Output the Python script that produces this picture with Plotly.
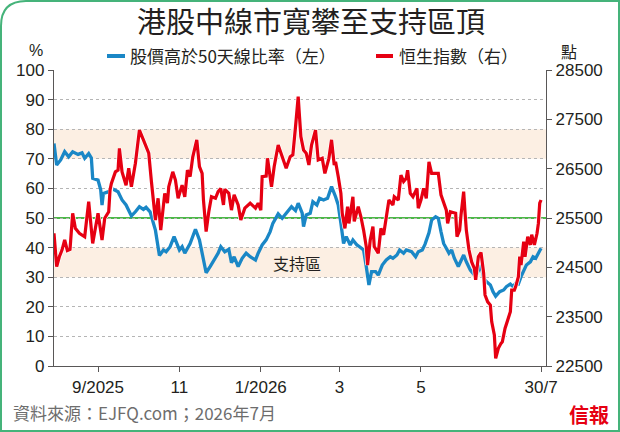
import plotly.graph_objects as go

# 股價高於50天線比率 (%), left axis
breadth_dates = [
    "2025-07-30", "2025-08-01", "2025-08-04", "2025-08-07", "2025-08-10", "2025-08-13", "2025-08-17",
    "2025-08-20", "2025-08-22", "2025-08-25", "2025-08-27", "2025-08-28", "2025-09-01", "2025-09-03",
    "2025-09-04", "2025-09-05", "2025-09-09", "2025-09-12", "2025-09-16", "2025-09-19", "2025-09-22",
    "2025-09-26", "2025-09-29", "2025-10-02", "2025-10-05", "2025-10-07", "2025-10-10", "2025-10-14",
    "2025-10-17", "2025-10-20", "2025-10-22", "2025-10-25", "2025-10-28", "2025-11-01", "2025-11-03",
    "2025-11-05", "2025-11-09", "2025-11-11", "2025-11-13", "2025-11-16", "2025-11-18", "2025-11-21",
    "2025-11-24", "2025-11-27", "2025-11-30", "2025-12-02", "2025-12-05", "2025-12-08", "2025-12-10",
    "2025-12-12", "2025-12-15", "2025-12-18", "2025-12-21", "2025-12-24", "2025-12-28", "2025-12-30",
    "2026-01-02", "2026-01-05", "2026-01-08", "2026-01-10", "2026-01-14", "2026-01-17", "2026-01-20",
    "2026-01-24", "2026-01-27", "2026-01-29", "2026-02-01", "2026-02-02", "2026-02-04", "2026-02-07",
    "2026-02-09", "2026-02-12", "2026-02-14", "2026-02-17", "2026-02-20", "2026-02-21", "2026-02-23",
    "2026-02-26", "2026-02-28", "2026-03-02", "2026-03-04", "2026-03-06", "2026-03-09", "2026-03-11",
    "2026-03-14", "2026-03-16", "2026-03-19", "2026-03-21", "2026-03-23", "2026-03-25", "2026-03-28",
    "2026-03-30", "2026-04-02", "2026-04-05", "2026-04-08", "2026-04-10", "2026-04-13", "2026-04-15",
    "2026-04-18", "2026-04-20", "2026-04-24", "2026-04-27", "2026-04-29", "2026-05-02", "2026-05-04",
    "2026-05-07", "2026-05-09", "2026-05-12", "2026-05-14", "2026-05-16", "2026-05-18", "2026-05-20",
    "2026-05-22", "2026-05-24", "2026-05-26", "2026-05-29", "2026-05-31", "2026-06-02", "2026-06-04",
    "2026-06-07", "2026-06-09", "2026-06-10", "2026-06-12", "2026-06-14", "2026-06-15", "2026-06-17",
    "2026-06-19", "2026-06-22", "2026-06-24", "2026-06-26", "2026-06-29", "2026-07-02", "2026-07-04",
    "2026-07-07", "2026-07-09", "2026-07-11", "2026-07-13", "2026-07-15", "2026-07-17", "2026-07-19",
    "2026-07-22", "2026-07-24", "2026-07-26", "2026-07-28", "2026-07-30",
]
breadth_pct = [
    75.2, 67.9, 69.6, 72.4, 70.7, 72.4, 71.5,
    72.0, 70.2, 71.8, 70.3, 63.4, 62.8, 59.5,
    54.4, 58.3, 58.9, 59.8, 58.9, 56.1, 54.4,
    50.7, 52.1, 53.8, 52.9, 53.6, 52.1, 45.9,
    37.3, 39.2, 38.6, 40.3, 43.7, 39.2, 40.3,
    38.1, 41.4, 43.7, 46.2, 42.6, 38.1, 31.5,
    33.6, 35.8, 38.1, 40.3, 38.6, 39.4, 34.9,
    36.9, 33.6, 36.4, 38.1, 36.9, 35.8, 38.1,
    40.9, 42.6, 45.4, 48.2, 51.4, 49.9, 51.6,
    53.8, 52.5, 55.0, 51.6, 47.1, 51.0, 51.6,
    55.5, 54.4, 56.7, 56.1, 56.7, 58.3, 60.6,
    57.2, 54.4, 48.2, 41.4, 43.7, 40.9, 42.6,
    40.9, 40.3, 39.2, 33.6, 27.4, 31.9, 31.9,
    30.7, 34.1, 35.8, 36.9, 36.4, 37.5, 39.2,
    38.1, 39.2, 38.6, 36.9, 38.6, 39.2, 41.1,
    45.0, 49.3, 50.4, 49.9, 45.4, 41.4, 39.8,
    38.1, 39.2, 36.4, 33.6, 35.8, 37.5, 35.2,
    32.4, 31.3, 32.4, 31.3, 33.0, 34.1, 29.6,
    28.5, 27.4, 25.1, 23.6, 25.1, 25.7, 26.8,
    27.7, 26.8, 27.9, 27.7, 30.2, 32.4, 34.1,
    35.2, 36.9, 36.4, 38.1, 39.8,
]

# 恒生指數, right axis
hsi_dates = [
    "2025-07-30", "2025-08-01", "2025-08-03", "2025-08-05", "2025-08-07", "2025-08-09", "2025-08-11",
    "2025-08-13", "2025-08-15", "2025-08-18", "2025-08-22", "2025-08-25", "2025-08-28", "2025-09-01",
    "2025-09-04", "2025-09-06", "2025-09-09", "2025-09-10", "2025-09-11", "2025-09-14", "2025-09-16",
    "2025-09-17", "2025-09-19", "2025-09-22", "2025-09-24", "2025-09-26", "2025-09-29", "2025-10-02",
    "2025-10-05", "2025-10-09", "2025-10-11", "2025-10-14", "2025-10-16", "2025-10-18", "2025-10-21",
    "2025-10-23", "2025-10-24", "2025-10-27", "2025-10-29", "2025-10-31", "2025-11-03", "2025-11-05",
    "2025-11-07", "2025-11-09", "2025-11-11", "2025-11-14", "2025-11-16", "2025-11-18", "2025-11-19",
    "2025-11-21", "2025-11-23", "2025-11-25", "2025-11-28", "2025-11-30", "2025-12-02", "2025-12-04",
    "2025-12-05", "2025-12-08", "2025-12-10", "2025-12-12", "2025-12-15", "2025-12-17", "2025-12-20",
    "2025-12-24", "2025-12-28", "2025-12-30", "2026-01-01", "2026-01-02", "2026-01-05", "2026-01-06",
    "2026-01-09", "2026-01-11", "2026-01-14", "2026-01-17", "2026-01-20", "2026-01-23", "2026-01-25",
    "2026-01-27", "2026-01-29", "2026-01-30", "2026-01-31", "2026-02-02", "2026-02-04", "2026-02-06",
    "2026-02-08", "2026-02-11", "2026-02-13", "2026-02-16", "2026-02-18", "2026-02-21", "2026-02-23",
    "2026-02-25", "2026-02-26", "2026-02-28", "2026-03-02", "2026-03-03", "2026-03-05", "2026-03-07",
    "2026-03-08", "2026-03-11", "2026-03-12", "2026-03-15", "2026-03-17", "2026-03-19", "2026-03-21",
    "2026-03-22", "2026-03-24", "2026-03-26", "2026-03-27", "2026-03-30", "2026-04-01", "2026-04-03",
    "2026-04-05", "2026-04-07", "2026-04-10", "2026-04-11", "2026-04-14", "2026-04-16", "2026-04-18",
    "2026-04-20", "2026-04-21", "2026-04-23", "2026-04-25", "2026-04-28", "2026-04-29", "2026-05-01",
    "2026-05-03", "2026-05-05", "2026-05-07", "2026-05-09", "2026-05-12", "2026-05-14", "2026-05-16",
    "2026-05-18", "2026-05-20", "2026-05-21", "2026-05-23", "2026-05-25", "2026-05-27", "2026-05-28",
    "2026-05-30", "2026-05-31", "2026-06-02", "2026-06-03", "2026-06-04", "2026-06-06", "2026-06-08",
    "2026-06-10", "2026-06-11", "2026-06-13", "2026-06-15", "2026-06-17", "2026-06-18", "2026-06-20",
    "2026-06-22", "2026-06-23", "2026-06-25", "2026-06-26", "2026-06-28", "2026-06-30", "2026-07-01",
    "2026-07-03", "2026-07-05", "2026-07-07", "2026-07-08", "2026-07-10", "2026-07-11", "2026-07-13",
    "2026-07-14", "2026-07-15", "2026-07-17", "2026-07-18", "2026-07-20", "2026-07-22", "2026-07-23",
    "2026-07-25", "2026-07-27", "2026-07-28", "2026-07-29", "2026-07-30",
]
hsi_close = [
    25190, 24515, 24715, 24850, 25055, 24840, 24865,
    25595, 25290, 25190, 25120, 25830, 24985, 25595,
    25055, 25495, 25625, 26070, 26200, 26435, 26470,
    26910, 26435, 26165, 26510, 26135, 26610, 27280,
    27085, 26815, 26240, 25460, 25900, 25255, 26000,
    25800, 26135, 26435, 26270, 25900, 26165, 25930,
    26470, 26340, 26740, 27085, 26540, 26405, 25865,
    25225, 25625, 25930, 25900, 26035, 26100, 25765,
    26080, 26000, 25660, 25970, 25765, 25460, 25700,
    25800, 25700, 25800, 25660, 26340, 26350, 26710,
    26135, 26540, 26980, 26740, 26510, 26740, 26780,
    27350, 27960, 27550, 27150, 26880, 26815, 26575,
    26980, 27280, 26675, 26710, 26405, 26710, 27085,
    26575, 26640, 26340, 26000, 25595, 25290, 25730,
    25390, 25930, 25430, 25730, 25525, 25255, 24920,
    24545, 25055, 25325, 24920, 24785, 25290, 25160,
    25525, 25865, 25765, 25930, 25865, 26370, 26240,
    26305, 26470, 26000, 25930, 26100, 25700, 25865,
    26100, 25900, 26640, 26405, 26405, 26405, 25970,
    25800, 25660, 25390, 25625, 25610, 25595, 25120,
    25255, 25560, 26035, 25625, 25255, 24850, 24610,
    24480, 24245, 24715, 24800, 24380, 23940, 23800,
    23735, 23400, 23130, 22655, 22860, 22960, 22990,
    23260, 23430, 23600, 24040, 24040, 24110, 24310,
    24715, 24545, 25020, 24715, 25120, 24955, 25160,
    24955, 25190, 25390, 25800, 25865,
]

x_tickvals = ["2025-09-01", "2025-11-01", "2026-01-01", "2026-03-01", "2026-05-01", "2026-07-30"]
x_ticktext = ["9/2025", "11", "1/2026", "3", "5", "30/7"]
left_ticks = list(range(0, 101, 10))
right_ticks = list(range(22500, 28501, 1000))

BLUE = "#1a87c6"
RED = "#e60012"
GREEN = "#4cb848"
BAND = "#fcefe3"
INK = "#231f20"
AXIS = "#595757"
CJK = "Noto Sans CJK TC"
NUM = "Liberation Sans, Noto Sans CJK TC"

# plot area in pixels, used to place the decorations
L, R, T, B = 54, 546, 70, 366


def px(x):
    return (x - L) / (R - L)


def py(y):
    return (B - y) / (B - T)


fig = go.Figure()
fig.add_trace(go.Scatter(x=breadth_dates, y=breadth_pct, mode="lines", yaxis="y",
                         line=dict(color=BLUE, width=3.3), showlegend=False))
fig.add_trace(go.Scatter(x=hsi_dates, y=hsi_close, mode="lines", yaxis="y2",
                         line=dict(color="white", width=4.6), showlegend=False, hoverinfo="skip"))
fig.add_trace(go.Scatter(x=hsi_dates, y=hsi_close, mode="lines", yaxis="y2",
                         line=dict(color=RED, width=3.2), showlegend=False))

shapes = [
    dict(type="rect", xref="paper", yref="y", x0=0, x1=1, y0=70, y1=80,
         fillcolor=BAND, line_width=0, layer="below"),
    dict(type="rect", xref="paper", yref="y", x0=0, x1=1, y0=30, y1=40,
         fillcolor=BAND, line_width=0, layer="below"),
    dict(type="line", xref="paper", yref="y", x0=0, x1=1, y0=50, y1=50,
         line=dict(color=GREEN, width=2.2), layer="between"),
    # legend keys
    dict(type="line", xref="paper", yref="paper", x0=px(107), x1=px(125), y0=py(56), y1=py(56),
         line=dict(color=BLUE, width=4)),
    dict(type="line", xref="paper", yref="paper", x0=px(376), x1=px(393), y0=py(56), y1=py(56),
         line=dict(color=RED, width=4)),
    # outer frame
    dict(type="path", xref="paper", yref="paper",
         path=f"M {px(1)},{py(431)} L {px(1)},{py(26)} Q {px(1)},{py(1)} {px(26)},{py(1)} "
              f"L {px(619)},{py(1)} L {px(619)},{py(431)} Z",
         line=dict(color="#45b37a", width=2)),
]

annotations = [
    dict(text="港股中線市寬攀至支持區頂", x=px(311), y=py(20), font=dict(size=29, color=INK, family=CJK)),
    dict(text="股價高於50天線比率（左）", x=px(128), y=py(56), xanchor="left",
         font=dict(size=17, color=INK, family=CJK)),
    dict(text="恒生指數（右）", x=px(397), y=py(56), xanchor="left",
         font=dict(size=17, color=INK, family=CJK)),
    dict(text="%", x=px(36), y=py(51), font=dict(size=16, color=INK, family=NUM)),
    dict(text="點", x=px(569), y=py(51), font=dict(size=16, color=INK, family=CJK)),
    dict(text="支持區", x=px(297), y=py(263), font=dict(size=16, color=INK, family=CJK)),
    dict(text="資料來源：EJFQ.com；2026年7月", x=px(11), y=py(412), xanchor="left",
         font=dict(size=17, color="#6d6d6d", family=CJK)),
    dict(text="<b>信報</b>", x=px(589), y=py(414), font=dict(size=20, color=RED, family=CJK)),
]
for a in annotations:
    a.update(xref="paper", yref="paper", showarrow=False)
    a.setdefault("xanchor", "center")
    a.setdefault("yanchor", "middle")

axis_style = dict(showline=True, linecolor=AXIS, linewidth=1.3, ticks="outside", ticklen=5,
                  tickcolor=AXIS, tickwidth=1.3, tickfont=dict(size=17, color=INK, family=NUM),
                  zeroline=False)

fig.update_layout(
    width=620, height=432,
    margin=dict(l=L, r=620 - R, t=T, b=432 - B),
    paper_bgcolor="white", plot_bgcolor="white",
    showlegend=False,
    shapes=shapes, annotations=annotations,
    xaxis=dict(type="date", range=["2025-07-30", "2026-08-02 17:00"], tickvals=x_tickvals,
               ticktext=x_ticktext, showgrid=False, **axis_style),
    yaxis=dict(range=[0, 100], tickvals=left_ticks, showgrid=True, gridcolor="#b5b5b5",
               griddash="dot", gridwidth=1, **axis_style),
    yaxis2=dict(range=[22500, 28500], tickvals=right_ticks, tickformat="d", overlaying="y",
                side="right", showgrid=False, **axis_style),
)

# the page keeps the browser's default body margin otherwise
fig.write_html("out.html", config={"displayModeBar": False},
               post_script="document.body.style.margin = '0';")
